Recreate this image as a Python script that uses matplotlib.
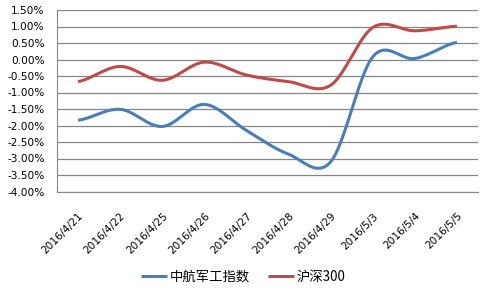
import numpy as np
import matplotlib
matplotlib.use("Agg")
import matplotlib.pyplot as plt

plt.rcParams['font.family'] = ['DejaVu Sans', 'Noto Sans CJK SC']

dates = ["2016/4/21", "2016/4/22", "2016/4/25", "2016/4/26", "2016/4/27",
         "2016/4/28", "2016/4/29", "2016/5/3", "2016/5/4", "2016/5/5"]
military = [-1.84, -1.51, -2.03, -1.36, -2.15, -2.87, -3.10, 0.08, 0.03, 0.52]
hs300 = [-0.67, -0.21, -0.63, -0.08, -0.47, -0.67, -0.78, 0.97, 0.87, 1.01]
series_names = ["中航军工指数", "沪深300"]
colors = ["#4A7EBB", "#BE4B48"]
yticks = [1.5, 1.0, 0.5, 0.0, -0.5, -1.0, -1.5, -2.0, -2.5, -3.0, -3.5, -4.0]


def smooth(y, n=30):
    """Catmull-Rom smoothing (like Excel's smoothed line) through the data points."""
    y = np.asarray(y, float)
    x = np.arange(len(y), dtype=float)
    m = np.zeros_like(y)
    m[1:-1] = (y[2:] - y[:-2]) / 2
    m[0] = (y[1] - y[0]) / 2
    m[-1] = (y[-1] - y[-2]) / 2
    xs, ys = [], []
    for i in range(len(y) - 1):
        t = np.linspace(0, 1, n, endpoint=(i == len(y) - 2))
        h00 = 2 * t**3 - 3 * t**2 + 1
        h10 = t**3 - 2 * t**2 + t
        h01 = -2 * t**3 + 3 * t**2
        h11 = t**3 - t**2
        xs.append(x[i] + t)
        ys.append(h00 * y[i] + h10 * m[i] + h01 * y[i + 1] + h11 * m[i + 1])
    return np.concatenate(xs), np.concatenate(ys)


fig = plt.figure(figsize=(4.86, 2.92), dpi=100)
ax = fig.add_axes([57 / 486, 1 - 191.5 / 292, 421 / 486, 181.5 / 292])

for vals, name, c in zip([military, hs300], series_names, colors):
    xs, ys = smooth(vals)
    ax.plot(xs, ys, color=c, lw=2.2, label=name, solid_capstyle='butt')

ax.set_xlim(-0.5, len(dates) - 0.5)
ax.set_ylim(-4.0, 1.5)
ax.set_yticks(yticks)
ax.set_yticklabels([f"{v:.2f}%" for v in yticks])
ax.yaxis.grid(True, color="#868686", lw=0.9)
ax.set_axisbelow(True)
for s in ["top", "right"]:
    ax.spines[s].set_visible(False)
ax.spines["left"].set_color("#868686")
ax.spines["bottom"].set_color("#868686")
ax.tick_params(axis='y', length=0, pad=9, labelsize=7.6)
ax.tick_params(axis='x', length=0, pad=14, labelsize=7.6)
ax.set_xticks(range(len(dates)))
ax.set_xticklabels(dates, rotation=45, ha='right', rotation_mode='anchor')

leg = fig.legend(loc='center', bbox_to_anchor=(0.5, 1 - 277 / 292), ncol=2,
                 frameon=False, fontsize=9.6, handlelength=2.0, columnspacing=1.35,
                 handletextpad=0.15)
for t in leg.get_texts():
    t.set_fontfamily(['Noto Sans CJK SC', 'DejaVu Sans'])

fig.savefig("out.png", dpi=100)
